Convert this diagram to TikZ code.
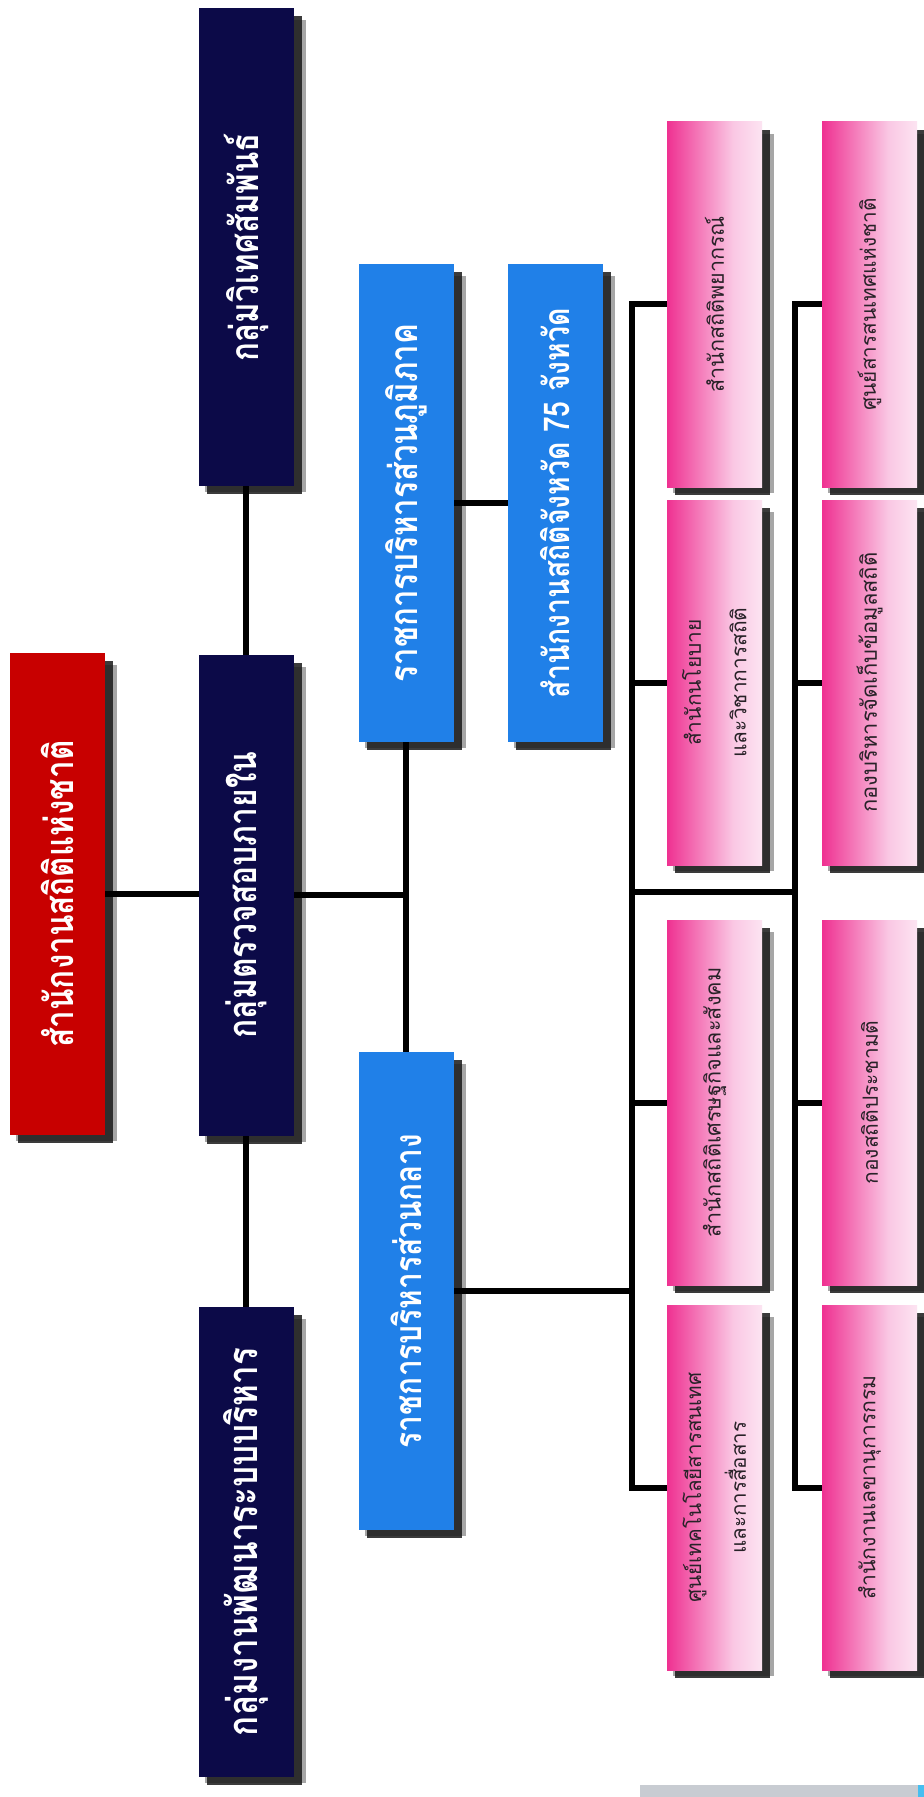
\documentclass[tikz,border=0pt]{standalone}
\usepackage{fontspec}
\usepackage{graphicx}
\newfontfamily\thai[Script=Thai]{Loma}
\pgfdeclarelayer{background}
\pgfsetlayers{background,main}
\definecolor{rd}{RGB}{200,0,0}
\definecolor{nv}{RGB}{12,10,72}
\definecolor{bl}{RGB}{32,128,232}
\definecolor{pk}{RGB}{238,36,138}
\definecolor{pkl}{RGB}{250,200,228}
\definecolor{tx}{RGB}{40,34,40}
\definecolor{barg}{RGB}{200,204,210}
\definecolor{barc}{RGB}{70,190,240}
\pgfdeclarehorizontalshading{pinkfade}{100bp}{color(0bp)=(pk); color(22bp)=(pk); color(60bp)=(pkl); color(90bp)=(white); color(100bp)=(white)}
\newcommand\Tx[2]{\rotatebox{90}{\resizebox{#1}{!}{#2}}}
\newcommand\TT[2]{\rotatebox{90}{\resizebox{#1}{!}{\scalebox{1}[1.25]{#2}}}}
\newcommand\TwoL[2]{{\renewcommand\arraystretch{1.45}\begin{tabular}{@{}c@{}}#1\\#2\end{tabular}}}
\begin{document}
\begin{tikzpicture}[x=0.5pt,y=-0.5pt,
  box/.style={inner sep=0pt, outer sep=0pt, minimum width=47.5pt, minimum height=#1},
  redbox/.style={box=#1, fill=rd, text=white, font=\thai\bfseries\fontsize{17}{20}\selectfont},
  navbox/.style={box=#1, fill=nv, text=white, font=\thai\bfseries\fontsize{17}{20}\selectfont},
  bluebox/.style={box=#1, fill=bl, text=white, font=\thai\bfseries\fontsize{17}{20}\selectfont},
  pinkbox/.style={box=182.5pt, shading=pinkfade, text=tx, font=\thai\fontsize{12}{18}\selectfont},
  conn/.style={draw=black, line width=3pt, line join=miter, line cap=rect},
  shadowA/.style={fill=black, opacity=0.35},
  shadowB/.style={fill=black!90, opacity=0.85}]
\useasboundingbox (0,0) rectangle (924,1797);

% top level
\node[redbox=241pt] (red) at (57.5,894) {\TT{153.5pt}{สำนักงานสถิติแห่งชาติ}};
\node[navbox=239pt] (navT) at (246,247) {\TT{114pt}{กลุ่มวิเทศสัมพันธ์}};
\node[navbox=240.5pt] (navM) at (246,895) {\TT{143.5pt}{กลุ่มตรวจสอบภายใน}};
\node[navbox=235pt] (navB) at (246,1542) {\TT{194pt}{กลุ่มงานพัฒนาระบบบริหาร}};
% blue
\node[bluebox=239pt] (bR) at (406,503) {\TT{179pt}{ราชการบริหารส่วนภูมิภาค}};
\node[bluebox=239pt] (bP) at (555,503) {\TT{195pt}{สำนักงานสถิติจังหวัด 75 จังหวัด}};
\node[bluebox=239pt] (bC) at (406,1291) {\TT{157pt}{ราชการบริหารส่วนกลาง}};
% pink column 1
\node[pinkbox] (p11) at (714.5,304.5) {\Tx{88.5pt}{สำนักสถิติพยากรณ์}};
\node[pinkbox] (p12) at (714.5,682.5) {\Tx{75pt}{\TwoL{สำนักนโยบาย}{และวิชาการสถิติ}}};
\node[pinkbox] (p13) at (714.5,1102.5) {\Tx{135pt}{สำนักสถิติเศรษฐกิจและสังคม}};
\node[pinkbox] (p14) at (714.5,1487.5) {\Tx{115pt}{\TwoL{ศูนย์เทคโนโลยีสารสนเทศ}{และการสื่อสาร}}};
% pink column 2
\node[pinkbox] (p21) at (869.5,304.5) {\Tx{106pt}{ศูนย์สารสนเทศแห่งชาติ}};
\node[pinkbox] (p22) at (869.5,682.5) {\Tx{130pt}{กองบริหารจัดเก็บข้อมูลสถิติ}};
\node[pinkbox] (p23) at (869.5,1102.5) {\Tx{82pt}{กองสถิติประชามติ}};
\node[pinkbox] (p24) at (869.5,1487.5) {\Tx{112pt}{สำนักงานเลขานุการกรม}};

\coordinate (b1) at (632,0);
\coordinate (b2) at (795,0);
\coordinate (j1) at (632,892);
\coordinate (j2) at (795,892);

\begin{pgfonlayer}{background}
\fill[white] (0,0) rectangle (924,1797);
\foreach \n in {red,navT,navM,navB,bR,bP,bC,p11,p12,p13,p14,p21,p22,p23,p24}{
  \fill[shadowA] ([shift={(3pt,-3pt)}]\n.south west) rectangle ([shift={(6pt,-6pt)}]\n.north east);
  \fill[shadowB] ([shift={(4pt,-4pt)}]\n.south west) rectangle ([shift={(4pt,-4pt)}]\n.north east);
}
\draw[conn] (red.east) -- (red.east -| navM.west);
\draw[conn] (navT.south) -- (navM.north);
\draw[conn] (navM.south) -- (navB.north);
\draw[conn] (navM.east) -- (navM.east -| bR.south);
\draw[conn] (bR.south) -- (bC.north);
\draw[conn] (bR.east) -- (bP.west);
\draw[conn] (bC.east) -- (bC.east -| b1);
\draw[conn] (p11.west) -- (p11.west -| b1) -- (p14.west -| b1) -- (p14.west);
\draw[conn] (p12.west -| b1) -- (p12.west);
\draw[conn] (p13.west -| b1) -- (p13.west);
\draw[conn] (p21.west) -- (p21.west -| b2) -- (p24.west -| b2) -- (p24.west);
\draw[conn] (p22.west -| b2) -- (p22.west);
\draw[conn] (p23.west -| b2) -- (p23.west);
\draw[conn] (j1) -- (j2);
\end{pgfonlayer}

\fill[barg] (640,1785) rectangle (918,1797);
\fill[barc] (918,1785) rectangle (924,1797);
\end{tikzpicture}
\end{document}
